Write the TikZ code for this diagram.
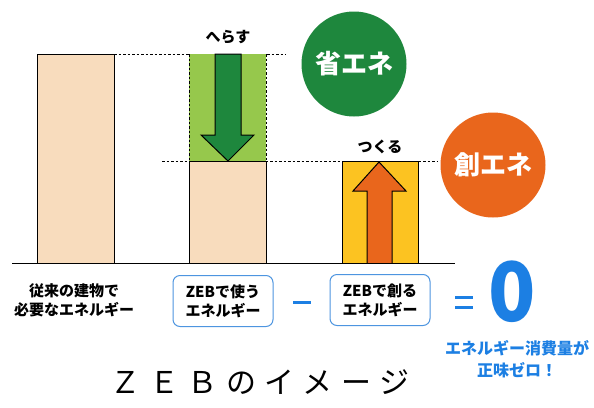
\documentclass[tikz,border=0pt]{standalone}
\usepackage{fontspec}
\setmainfont{Noto Sans CJK JP}
\usetikzlibrary{calc}
\definecolor{beige}{HTML}{F8DCBD}
\definecolor{leafgreen}{HTML}{96C84C}
\definecolor{ecogreen}{HTML}{1E873D}
\definecolor{ecoorange}{HTML}{E9661C}
\definecolor{sunyellow}{HTML}{FCC321}
\definecolor{zeroblue}{HTML}{1C7FE3}
\definecolor{boxblue}{HTML}{4D95E0}
\tikzset{
  bar/.style={draw=black,line width=1pt,fill=beige},
  guide/.style={line width=0.9pt,dash pattern=on 2.5pt off 2pt},
  blockarrow/.style={draw=black,line width=1pt},
  badge/.style={circle,minimum size=105pt,inner sep=0pt,text=white,font=\bfseries\fontsize{26}{26}\selectfont},
  caption/.style={font=\bfseries\fontsize{15}{19}\selectfont,align=center},
  ebox/.style={draw=boxblue,line width=1pt,rounded corners=7pt,minimum width=100pt,minimum height=51pt,align=center,font=\bfseries\fontsize{15}{19}\selectfont},
  sign/.style={zeroblue,line width=3pt}
}

\begin{document}
\begin{tikzpicture}[x=1pt,y=-1pt]
      \useasboundingbox[fill=white] (0,0) rectangle (594,407);

      \draw[guide] (114,54) -- (286,54);
      \draw[guide] (162,161) -- (438,161);

      % conventional building
      \draw[bar] (37,263) rectangle (114,54);

      % ZEB use
      \fill[leafgreen] (189,54) rectangle (266,161);
      \draw[guide] (189,54) -- (189,161) (266,54) -- (266,161);
      \draw[bar] (189,263) rectangle (266,161);
      \draw[blockarrow,fill=ecogreen] (215,54) -- (241,54) -- (241,135) -- (254,135)
        -- (228,161) -- (201,135) -- (215,135) -- cycle;
      \node[font=\bfseries\fontsize{15}{15}\selectfont] (reduce) at (228,37) {へらす};

      % ZEB generation
      \draw[bar,fill=sunyellow] (342,263) rectangle (418,161);
      \draw[blockarrow,fill=ecoorange] (367,263) -- (367,191) -- (353,191) -- (379,162)
        -- (406,191) -- (392,191) -- (392,263);
      \node[font=\bfseries\fontsize{15}{15}\selectfont] (create) at (380,147) {つくる};

      \draw[line width=1pt] (12,263) -- (455,263);

      \node[badge,fill=ecogreen] (save) at (354,64) {省エネ};
      \node[badge,fill=ecoorange] (make) at (493,165) {創エネ};

      % equation
      \node[caption] (before) at (74,300) {従来の建物で\\必要なエネルギー};
      \node[ebox] (use) at (223,301) {ZEBで使う\\エネルギー};
      \node[ebox] (gen) at (380,300) {ZEBで創る\\エネルギー};
      \draw[sign] (293,302) -- (311,302);
      \draw[sign] (455,297) -- (473,297) (455,307) -- (473,307);
      \node[text=zeroblue,font=\bfseries\fontsize{82}{82}\selectfont,xscale=0.95] (zero) at (512,292) {0};
      \node[text=zeroblue,font=\bfseries\fontsize{16}{22}\selectfont,align=center] (net) at (517,359) {エネルギー消費量が\\正味ゼロ！};

      \node[font=\addfontfeatures{LetterSpace=28}\fontsize{30}{30}\selectfont] (title) at (260,382) {ＺＥＢのイメージ};
    \end{tikzpicture}
\end{document}
